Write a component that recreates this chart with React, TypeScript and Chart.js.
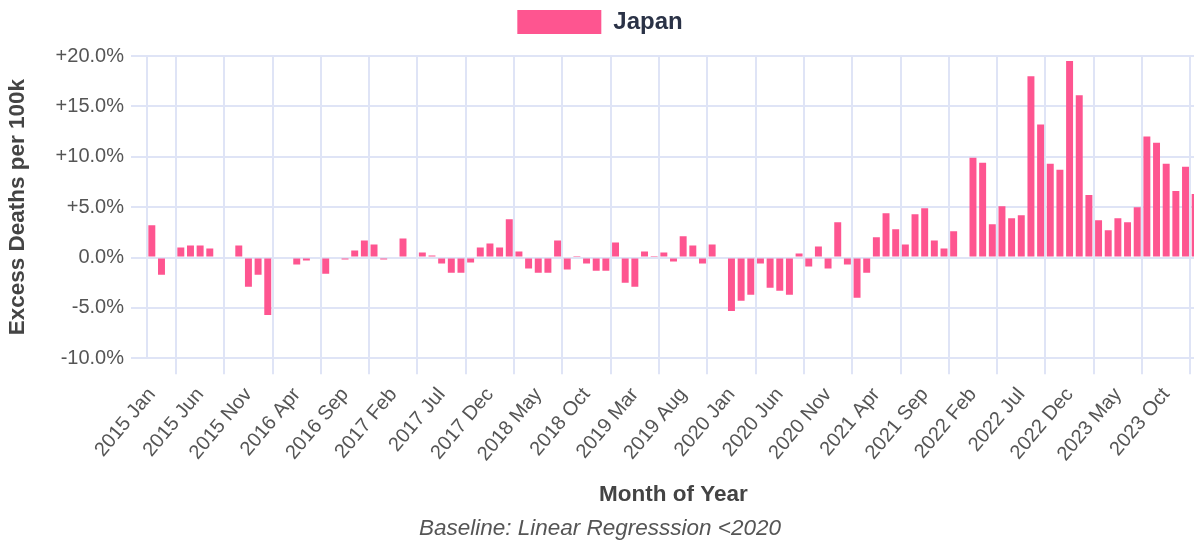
import React, { useEffect, useRef } from "react";
import { Chart, registerables } from "chart.js";

Chart.register(...registerables);

const YEARS = [2015, 2016, 2017, 2018, 2019, 2020, 2021, 2022, 2023];
const MONTHS = ["Jan", "Feb", "Mar", "Apr", "May", "Jun", "Jul", "Aug", "Sep", "Oct", "Nov", "Dec"];
const EXTRA_CATEGORIES = ["2024 Jan"];

const CATEGORIES: string[] = [
  ...YEARS.flatMap((y) => MONTHS.map((m) => `${y} ${m}`)),
  ...EXTRA_CATEGORIES,
];

const SERIES_LABEL = "Japan";

// Excess deaths per 100k, % vs. baseline
const JAPAN_2015 = [3.2, -1.7, 0.1, 1.0, 1.2, 1.2, 0.9, 0.0, 0.1, 1.2, -2.9, -1.7];
const JAPAN_2016 = [-5.7, 0.1, 0.1, -0.7, -0.3, 0.0, -1.6, 0.1, -0.2, 0.7, 1.7, 1.3];
const JAPAN_2017 = [-0.2, 0.1, 1.9, 0.0, 0.5, 0.2, -0.6, -1.5, -1.5, -0.5, 1.0, 1.4];
const JAPAN_2018 = [1.0, 3.8, 0.6, -1.1, -1.5, -1.5, 1.7, -1.2, 0.05, -0.6, -1.3, -1.3];
const JAPAN_2019 = [1.5, -2.5, -2.9, 0.6, 0.05, 0.5, -0.4, 2.1, 1.2, -0.6, 1.3, 0.0];
const JAPAN_2020 = [-5.3, -4.3, -3.7, -0.6, -3.0, -3.3, -3.7, 0.4, -0.9, 1.1, -1.1, 3.5];
const JAPAN_2021 = [-0.7, -4.0, -1.5, 2.0, 4.4, 2.8, 1.3, 4.3, 4.9, 1.7, 0.9, 2.6];
const JAPAN_2022 = [0.0, 9.9, 9.4, 3.3, 5.1, 3.9, 4.2, 18.0, 13.2, 9.3, 8.7, 19.5];
const JAPAN_2023 = [16.1, 6.2, 3.7, 2.7, 3.9, 3.5, 5.0, 12.0, 11.4, 9.3, 6.6, 9.0];
const JAPAN_2024 = [6.3];

const JAPAN_VALUES = [
  ...JAPAN_2015, ...JAPAN_2016, ...JAPAN_2017, ...JAPAN_2018, ...JAPAN_2019,
  ...JAPAN_2020, ...JAPAN_2021, ...JAPAN_2022, ...JAPAN_2023, ...JAPAN_2024,
];

const Y_MIN = -10;
const Y_MAX = 20;
const Y_STEP = 5;

const FONT = "'Liberation Sans', Arial, Helvetica, sans-serif";
const GRID = "#dfe4f6";
const BAR = "#fe5590";

const legendSpacer = {
  id: "legendSpacer",
  beforeInit(chart: any) {
    const legend = chart.legend;
    if (!legend) return;
    const origFit = legend.fit;
    legend.fit = function () {
      origFit.call(this);
      this.height += 12;
    };
  },
};

export default function App() {
  const ref = useRef<HTMLCanvasElement | null>(null);

  useEffect(() => {
    document.body.style.margin = "0";
    document.body.style.overflow = "hidden";
    document.documentElement.style.overflow = "hidden";
    if (!ref.current) return;
    const chart = new Chart(ref.current, {
      type: "bar",
      plugins: [legendSpacer],
      data: {
        labels: CATEGORIES,
        datasets: [
          {
            label: SERIES_LABEL,
            data: JAPAN_VALUES,
            backgroundColor: BAR,
            borderWidth: 0,
          },
        ],
      },
      options: {
        animation: false,
        responsive: true,
        maintainAspectRatio: false,
        layout: { padding: { left: 0, right: 0, top: 0, bottom: 2 } },
        plugins: {
          legend: {
            display: true,
            position: "top",
            labels: {
              boxWidth: 84,
              boxHeight: 24,
              color: "#2a3246",
              font: { family: FONT, size: 24, weight: "bold" },
            },
          },
          subtitle: {
            display: true,
            position: "bottom",
            text: "Baseline: Linear Regresssion <2020",
            color: "#555",
            font: { family: FONT, size: 22.5, style: "italic" },
            padding: { top: 3, bottom: 4 },
          },
          tooltip: { enabled: false },
        },
        scales: {
          x: {
            grid: { color: GRID, lineWidth: 2, tickLength: 16 },
            border: { color: GRID, width: 2 },
            ticks: {
              color: "#555",
              font: { family: FONT, size: 20 },
              minRotation: 50,
              maxRotation: 50,
              autoSkip: true,
              maxTicksLimit: 24,
              padding: 9,
            },
            title: {
              display: true,
              text: "Month of Year",
              color: "#444",
              font: { family: FONT, size: 22.5, weight: "bold" },
              padding: { top: 6, bottom: 4 },
            },
          },
          y: {
            min: Y_MIN,
            max: Y_MAX,
            grid: { color: GRID, lineWidth: 2, tickLength: 16 },
            border: { color: GRID, width: 2 },
            ticks: {
              stepSize: Y_STEP,
              color: "#555",
              font: { family: FONT, size: 20 },
              padding: 7,
              callback: (v: any) => {
                const n = Number(v);
                return (n > 0 ? "+" : "") + n.toFixed(1) + "%";
              },
            },
            title: {
              display: true,
              text: "Excess Deaths per 100k",
              color: "#444",
              font: { family: FONT, size: 22.5, weight: "bold" },
              padding: { top: 4, bottom: 4 },
            },
            afterFit: (scale: any) => {
              scale.width = 147;
            },
          },
        },
      },
    });
    return () => chart.destroy();
  }, []);

  return (
    <div style={{ position: "relative", width: "1200px", height: "548px" }}>
      <canvas ref={ref} />
    </div>
  );
}
